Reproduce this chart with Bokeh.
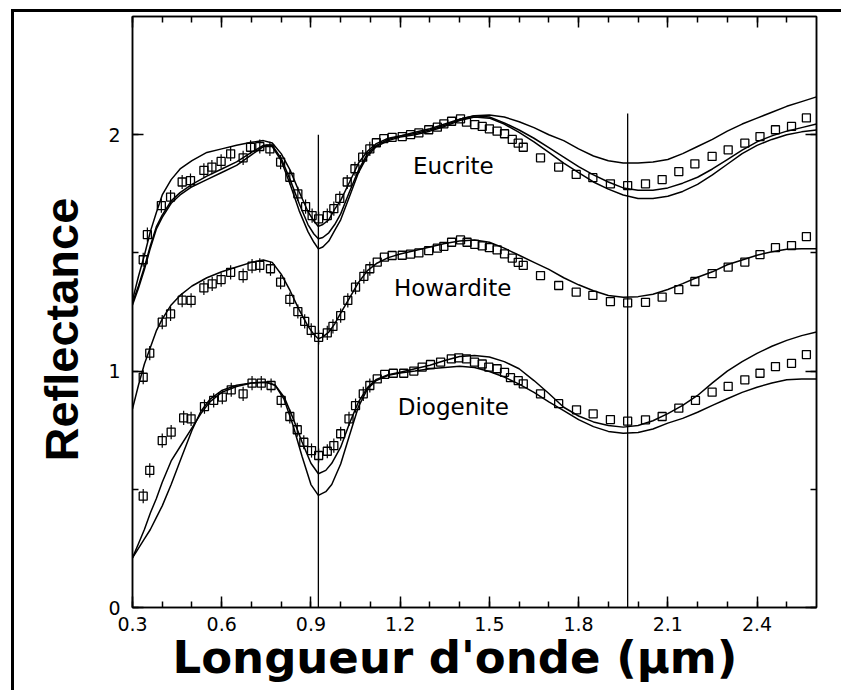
import numpy as np
from bokeh.plotting import figure
from bokeh.models import Range1d, FixedTicker, LinearAxis, Label, Title
from bokeh.embed import file_html
from bokeh.resources import INLINE

# ---------------- data ----------------
x_ticks = [0.3, 0.6, 0.9, 1.2, 1.5, 1.8, 2.1, 2.4]
x_tick_labels = ["0.3", "0.6", "0.9", "1.2", "1.5", "1.8", "2.1", "2.4"]
x_minor = [0.4, 0.5, 0.7, 0.8, 1.0, 1.1, 1.3, 1.4, 1.6, 1.7, 1.9, 2.0, 2.2, 2.3, 2.5]
y_ticks = [0, 1, 2]
y_minor = [0.5, 1.5]

band_centers = [0.925, 1.965]
band_tops = [2.0, 2.09]

group_names = ["Eucrite", "Howardite", "Diogenite"]

# model spectra (lines)
lx = [0.30, 0.32, 0.34, 0.36, 0.38, 0.40, 0.43, 0.46, 0.50, 0.55, 0.60, 0.65, 0.70, 0.74, 0.77,
      0.80, 0.83, 0.86, 0.89, 0.91, 0.925, 0.94, 0.96, 0.98, 1.00, 1.03, 1.06, 1.09, 1.12, 1.16,
      1.20, 1.25, 1.30, 1.35, 1.40, 1.45, 1.50, 1.55, 1.60, 1.65, 1.70, 1.75, 1.80, 1.85, 1.90,
      1.95, 2.00, 2.05, 2.10, 2.15, 2.20, 2.25, 2.30, 2.35, 2.40, 2.45, 2.50, 2.55, 2.60]
eucrite_1 = [1.30, 1.40, 1.49, 1.59, 1.67, 1.745, 1.81, 1.855, 1.89, 1.925, 1.94, 1.955, 1.968, 1.975, 1.965,
             1.92, 1.85, 1.76, 1.675, 1.635, 1.612, 1.62, 1.64, 1.685, 1.722, 1.80, 1.88, 1.93, 1.962, 1.985,
             1.995, 2.01, 2.025, 2.045, 2.065, 2.08, 2.083, 2.075, 2.055, 2.03, 2.0, 1.975, 1.94, 1.91, 1.89,
             1.88, 1.88, 1.885, 1.895, 1.92, 1.95, 1.98, 2.015, 2.045, 2.07, 2.095, 2.12, 2.14, 2.16]
eucrite_2 = [1.29, 1.36, 1.44, 1.53, 1.61, 1.66, 1.72, 1.755, 1.79, 1.825, 1.855, 1.885, 1.925, 1.955, 1.955,
             1.90, 1.81, 1.71, 1.62, 1.58, 1.56, 1.565, 1.585, 1.62, 1.665, 1.76, 1.85, 1.92, 1.955, 1.98,
             1.995, 2.005, 2.02, 2.04, 2.065, 2.08, 2.075, 2.05, 2.02, 1.985, 1.945, 1.905, 1.865, 1.83, 1.80,
             1.775, 1.765, 1.765, 1.775, 1.795, 1.82, 1.855, 1.895, 1.935, 1.97, 1.995, 2.015, 2.03, 2.045]
eucrite_3 = [1.28, 1.35, 1.43, 1.52, 1.60, 1.65, 1.71, 1.745, 1.78, 1.81, 1.84, 1.87, 1.915, 1.95, 1.95,
             1.89, 1.79, 1.68, 1.59, 1.545, 1.517, 1.525, 1.55, 1.595, 1.64, 1.74, 1.84, 1.91, 1.95, 1.975,
             1.99, 2.0, 2.015, 2.035, 2.06, 2.075, 2.07, 2.045, 2.01, 1.97, 1.925, 1.88, 1.84, 1.80, 1.77,
             1.745, 1.73, 1.73, 1.74, 1.76, 1.79, 1.83, 1.875, 1.92, 1.955, 1.98, 2.0, 2.012, 2.02]
howardite_1 = [0.84, 0.94, 1.03, 1.10, 1.17, 1.22, 1.28, 1.32, 1.36, 1.395, 1.42, 1.44, 1.46, 1.47, 1.46,
               1.41, 1.34, 1.26, 1.19, 1.155, 1.137, 1.145, 1.165, 1.20, 1.245, 1.31, 1.375, 1.425, 1.455, 1.48,
               1.495, 1.51, 1.525, 1.54, 1.55, 1.555, 1.545, 1.52, 1.49, 1.46, 1.43, 1.395, 1.365, 1.34, 1.32,
               1.312, 1.315, 1.325, 1.345, 1.37, 1.397, 1.42, 1.45, 1.47, 1.49, 1.505, 1.515, 1.518, 1.518]

dx = [0.30, 0.32, 0.34, 0.36, 0.38, 0.40, 0.43, 0.46, 0.50, 0.53, 0.56, 0.60, 0.65, 0.70, 0.75,
      0.78, 0.81, 0.84, 0.87, 0.90, 0.925, 0.95, 0.97, 1.00, 1.03, 1.06, 1.09, 1.12, 1.16, 1.20,
      1.25, 1.30, 1.35, 1.40, 1.45, 1.50, 1.55, 1.60, 1.65, 1.70, 1.75, 1.80, 1.85, 1.90, 1.95,
      2.00, 2.05, 2.10, 2.15, 2.20, 2.25, 2.30, 2.35, 2.40, 2.45, 2.50, 2.55, 2.60]
diogenite_1 = [0.21, 0.27, 0.33, 0.40, 0.46, 0.53, 0.62, 0.68, 0.76, 0.82, 0.87, 0.91, 0.935, 0.95, 0.953,
               0.94, 0.89, 0.80, 0.70, 0.61, 0.566, 0.58, 0.61, 0.678, 0.78, 0.87, 0.93, 0.965, 0.985, 0.995,
               1.01, 1.025, 1.045, 1.062, 1.066, 1.06, 1.04, 1.01, 0.96, 0.905, 0.847, 0.81, 0.785, 0.77, 0.763,
               0.77, 0.79, 0.82, 0.855, 0.897, 0.95, 1.0, 1.04, 1.075, 1.105, 1.13, 1.15, 1.165]
diogenite_2 = [0.21, 0.25, 0.29, 0.33, 0.38, 0.43, 0.52, 0.62, 0.75, 0.83, 0.88, 0.918, 0.94, 0.95, 0.953,
               0.94, 0.88, 0.77, 0.64, 0.52, 0.474, 0.49, 0.52, 0.607, 0.73, 0.85, 0.925, 0.96, 0.982, 0.992,
               1.0, 1.01, 1.015, 1.02, 1.015, 0.998, 0.975, 0.945, 0.91, 0.87, 0.833, 0.795, 0.765, 0.745, 0.737,
               0.74, 0.755, 0.78, 0.80, 0.826, 0.855, 0.883, 0.91, 0.932, 0.95, 0.963, 0.967, 0.967]

# measured spectra (squares)
eu_x = [0.336, 0.35, 0.397, 0.428, 0.467, 0.495, 0.540, 0.567, 0.598, 0.630, 0.672, 0.697, 0.728, 0.762, 0.798,
        0.829, 0.856, 0.882, 0.904, 0.926, 0.955, 0.977, 0.997, 1.022, 1.048, 1.074, 1.098, 1.120, 1.145, 1.173,
        1.207, 1.235, 1.263, 1.296, 1.325, 1.347, 1.373, 1.403, 1.423, 1.451, 1.476, 1.500, 1.526, 1.551, 1.577,
        1.597, 1.614, 1.672, 1.733, 1.792, 1.848, 1.907, 1.965, 2.025, 2.081, 2.137, 2.191, 2.249, 2.303, 2.359,
        2.410, 2.462, 2.516, 2.566]
eu_y = [1.471, 1.577, 1.70, 1.736, 1.80, 1.806, 1.849, 1.863, 1.887, 1.919, 1.902, 1.947, 1.950, 1.940, 1.884,
        1.82, 1.75, 1.696, 1.658, 1.644, 1.658, 1.687, 1.731, 1.80, 1.856, 1.905, 1.940, 1.966, 1.983, 1.989,
        1.992, 2.0, 2.008, 2.021, 2.032, 2.046, 2.057, 2.067, 2.053, 2.043, 2.035, 2.025, 2.015, 2.004, 1.980,
        1.964, 1.947, 1.902, 1.863, 1.832, 1.818, 1.792, 1.785, 1.792, 1.81, 1.844, 1.877, 1.908, 1.936, 1.964,
        1.992, 2.021, 2.035, 2.071]
ho_x = [0.336, 0.358, 0.40, 0.428, 0.467, 0.497, 0.54, 0.568, 0.598, 0.63, 0.672, 0.702, 0.728, 0.764, 0.798,
        0.829, 0.856, 0.879, 0.901, 0.926, 0.955, 0.974, 1.0, 1.024, 1.05, 1.078, 1.098, 1.123, 1.147, 1.173,
        1.207, 1.235, 1.263, 1.296, 1.325, 1.347, 1.373, 1.403, 1.425, 1.451, 1.476, 1.50, 1.526, 1.551, 1.577,
        1.597, 1.614, 1.672, 1.733, 1.792, 1.848, 1.907, 1.965, 2.025, 2.081, 2.137, 2.191, 2.249, 2.303, 2.359,
        2.41, 2.462, 2.516, 2.566]
ho_y = [0.974, 1.076, 1.207, 1.242, 1.30, 1.299, 1.352, 1.369, 1.387, 1.418, 1.404, 1.444, 1.447, 1.433, 1.376,
        1.303, 1.252, 1.21, 1.172, 1.143, 1.162, 1.189, 1.235, 1.299, 1.355, 1.401, 1.433, 1.461, 1.482, 1.489,
        1.49, 1.495, 1.50, 1.51, 1.52, 1.528, 1.545, 1.555, 1.545, 1.536, 1.53, 1.522, 1.513, 1.496, 1.478,
        1.46, 1.447, 1.404, 1.362, 1.334, 1.32, 1.294, 1.289, 1.291, 1.313, 1.345, 1.379, 1.412, 1.44, 1.461,
        1.493, 1.522, 1.531, 1.569]
di_x = [0.336, 0.358, 0.40, 0.43, 0.472, 0.497, 0.542, 0.573, 0.602, 0.632, 0.672, 0.702, 0.733, 0.766, 0.80,
        0.829, 0.854, 0.876, 0.902, 0.926, 0.955, 0.977, 1.0, 1.028, 1.05, 1.076, 1.098, 1.123, 1.148, 1.177,
        1.212, 1.246, 1.274, 1.302, 1.336, 1.372, 1.397, 1.423, 1.45, 1.476, 1.498, 1.526, 1.551, 1.571, 1.597,
        1.614, 1.672, 1.733, 1.793, 1.849, 1.907, 1.965, 2.025, 2.081, 2.137, 2.193, 2.249, 2.303, 2.359, 2.41,
        2.462, 2.516, 2.566]
di_y = [0.471, 0.58, 0.706, 0.742, 0.802, 0.798, 0.85, 0.876, 0.89, 0.921, 0.904, 0.949, 0.949, 0.939, 0.876,
        0.808, 0.752, 0.699, 0.664, 0.643, 0.661, 0.685, 0.735, 0.798, 0.854, 0.904, 0.939, 0.967, 0.986, 0.991,
        0.991, 1.0, 1.017, 1.028, 1.038, 1.052, 1.056, 1.052, 1.038, 1.03, 1.017, 1.01, 0.995, 0.972, 0.96,
        0.946, 0.904, 0.862, 0.836, 0.819, 0.795, 0.788, 0.794, 0.808, 0.843, 0.876, 0.911, 0.935, 0.963, 0.991,
        1.019, 1.033, 1.07]
err_half = 0.03   # half height of the small error bars on the visible-range points
err_limit = 1.1   # error bars drawn for points shortward of this wavelength

# ---------------- figure ----------------
W, H = 830, 681
p = figure(width=W, height=H, x_range=Range1d(0.3, 2.6), y_range=Range1d(0, 2.5),
           output_backend="svg", toolbar_location=None,
           min_border_left=118, min_border_right=28, min_border_top=4, min_border_bottom=86)
p.styles = {"margin-left": "11px", "margin-top": "9px",
            "border-left": "3px solid black", "border-top": "3px solid black"}
p.background_fill_color = "white"
p.border_fill_color = "white"
p.xgrid.visible = False
p.ygrid.visible = False
p.outline_line_color = "black"
p.outline_line_width = 1.5

tick_font = "DejaVu Sans"


def style_axis(ax, ticks, minor, show_labels, overrides=None):
    ax.ticker = FixedTicker(ticks=ticks, minor_ticks=minor)
    ax.major_tick_in = 11
    ax.major_tick_out = 0
    ax.minor_tick_in = 6
    ax.minor_tick_out = 0
    ax.axis_line_color = "black"
    ax.axis_line_width = 1.5
    ax.major_tick_line_width = 1.5
    ax.minor_tick_line_width = 1.5
    ax.major_tick_line_color = "black"
    ax.minor_tick_line_color = "black"
    if show_labels:
        if overrides:
            ax.major_label_overrides = overrides
        ax.major_label_text_font = tick_font
        ax.major_label_text_font_size = "19px"
        ax.major_label_text_color = "black"
    else:
        ax.major_label_overrides = {t: "" for t in ticks}
        ax.major_label_standoff = 0


style_axis(p.xaxis[0], x_ticks, x_ticks + x_minor, True,
           {t: s for t, s in zip(x_ticks, x_tick_labels)})
p.xaxis[0].major_label_standoff = 9
style_axis(p.yaxis[0], y_ticks, y_ticks + y_minor, True)
p.yaxis[0].major_label_standoff = 12

top_ax = LinearAxis()
style_axis(top_ax, x_ticks, x_ticks + x_minor, False)
p.add_layout(top_ax, "above")
right_ax = LinearAxis()
style_axis(right_ax, y_ticks, y_ticks + y_minor, False)
p.add_layout(right_ax, "right")

# axis titles (Title objects so they can be offset from the centre)
x_title = Title(text="Longueur d'onde (\u00b5m)", align="left", offset=40,
                vertical_align="top", standoff=-6,
                text_font="DejaVu Sans", text_font_style="bold",
                text_font_size="45px", text_color="black")
p.add_layout(x_title, "below")
y_title = Title(text="Reflectance", align="left", offset=146,
                vertical_align="bottom", standoff=36,
                text_font="Liberation Sans", text_font_style="bold",
                text_font_size="47px", text_color="black")
p.add_layout(y_title, "left")

# absorption band centres
p.segment(x0=band_centers, y0=[0, 0], x1=band_centers, y1=band_tops,
          line_color="black", line_width=1.3)

# model curves
for ys in (eucrite_1, eucrite_2, eucrite_3, howardite_1):
    p.line(lx, ys, line_color="black", line_width=1.5)
for ys in (diogenite_1, diogenite_2):
    p.line(dx, ys, line_color="black", line_width=1.5)

# measured squares with short error bars
for xs, ys in ((eu_x, eu_y), (ho_x, ho_y), (di_x, di_y)):
    xs = np.array(xs)
    ys = np.array(ys)
    m = xs < err_limit
    p.segment(x0=xs[m], y0=ys[m] - err_half, x1=xs[m], y1=ys[m] + err_half,
              line_color="black", line_width=1.2)
    p.scatter(xs, ys, marker="square", size=8, fill_color="white", fill_alpha=0.0,
              line_color="black", line_width=1.3)

# group labels
label_pos = [(1.243, 1.869), (1.179, 1.352), (1.192, 0.847)]
for name, (lxp, lyp) in zip(group_names, label_pos):
    p.add_layout(Label(x=lxp, y=lyp, text=name, text_font="DejaVu Sans",
                       text_font_size="23px", text_color="black",
                       text_align="left", text_baseline="alphabetic"))

open("out.html", "w").write(file_html(p, INLINE))
